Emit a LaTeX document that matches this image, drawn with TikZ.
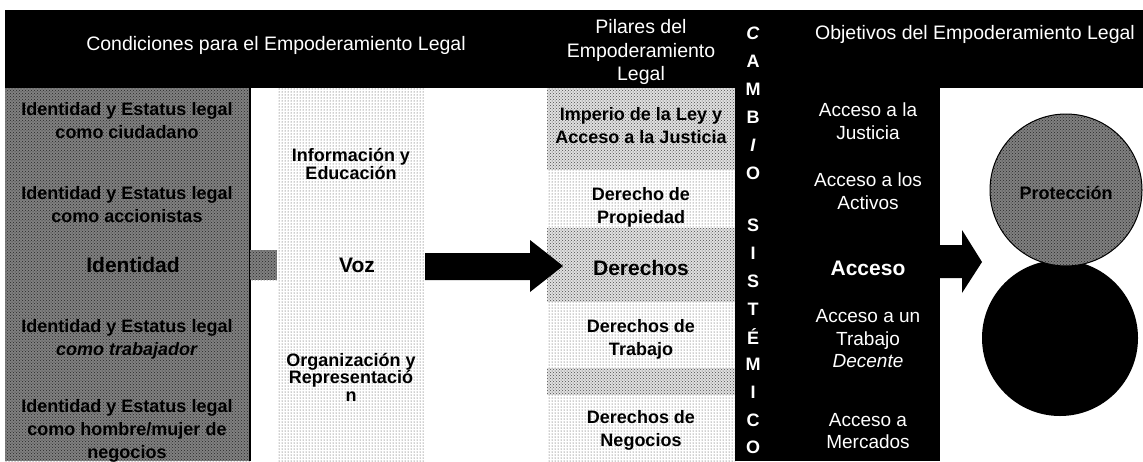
\documentclass[tikz,border=0pt]{standalone}
\usepackage{fontspec}
\setmainfont{Liberation Sans}
\usetikzlibrary{patterns}

\begin{document}
\begin{tikzpicture}[x=1pt,y=-1pt,line join=round,
	ralo/.style={preaction={fill=white},pattern=dots,pattern color=black!80},
	denso/.style={preaction={fill=black!12},pattern=crosshatch dots,pattern color=black!70},
	textura/.style={preaction={fill=black!50},pattern=crosshatch dots,pattern color=black!85},
	txt/.style={align=center,inner sep=0pt,font=\bfseries\fontsize{18}{23}\selectfont},
	apretado/.style={align=center,inner sep=0pt,font=\bfseries\fontsize{18}{17.5}\selectfont},
	grande/.style={align=center,inner sep=0pt,font=\bfseries\fontsize{21}{25}\selectfont},
	blanco/.style={align=center,inner sep=0pt,text=white,font=\fontsize{19}{22.5}\selectfont},
	cabeza/.style={align=center,inner sep=0pt,text=white,font=\fontsize{19.5}{23.5}\selectfont},
	letra/.style={inner sep=0pt,text=white,font=\bfseries\fontsize{18}{18}\selectfont}]
	
	% Columnas
	\def\xA{5}   % borde izquierdo
	\def\xB{250} % fin de Identidad
	\def\xC{277} % inicio de Voz
	\def\xD{425} % fin de Voz
	\def\xE{547} % inicio de Pilares
	\def\xF{735} % fin de Pilares
	\def\xG{940} % fin de Objetivos
	\def\yA{10}  % borde superior
	\def\yB{88}  % fin de cabecera
	
	% Marco
	\useasboundingbox (0,0) rectangle (1143,461);
	\fill[white] (0,0) rectangle (1143,461);
	
	% Cabecera y columna negra
	\fill[black] (\xA,\yA) rectangle (1143,\yB);
	\fill[black] (\xF,\yB) rectangle (\xG,461);
	
	% Identidad
	\path[textura] (\xA,\yB) rectangle (\xB,461);
	\draw[line width=2pt] (\xB,\yB) -- (\xB,461);
	\path[textura] (\xB,250) rectangle (\xC,280);
	
	% Voz
	\path[ralo] (\xC,\yB) rectangle (\xD,461);
	
	% Pilares (franjas)
	\foreach \ya/\yb/\est in {88/170/denso,170/228/ralo,228/302/denso,302/368/ralo,368/395/denso,395/461/ralo}
	\path[\est] (\xE,\ya) rectangle (\xF,\yb);
	
	% Flecha Voz -> Derechos
	\coordinate (f1) at (563,266);
	\fill[black] (\xD,253) -- (530,253) -- (530,240) -- (f1) -- (530,292) -- (530,280) -- (\xD,280) -- cycle;
	
	% Circulos
	\node[circle,fill=black,minimum size=156pt,inner sep=0pt] (oport) at (1060,338) {};
	\node[circle,draw,line width=1pt,textura,minimum size=152pt,inner sep=0pt] (protec) at (1066,190) {};
	\node[txt] (proteccion) at (1066,193) {Protección};
	
	% Flecha Acceso -> circulos
	\coordinate (f2) at (982,262);
	\fill[black] (\xG,245) -- (962,245) -- (962,230) -- (f2) -- (962,293) -- (962,278) -- (\xG,278) -- cycle;
	
	% Cabeceras
	\node[cabeza] (condic) at (276,45) {Condiciones para el Empoderamiento Legal};
	\node[cabeza] (pilares) at (641,52) {Pilares del\\Empoderamiento\\Legal};
	\node[cabeza] (objet) at (975,34) {Objetivos del Empoderamiento Legal};
	
	% CAMBIO SISTEMICO
	\foreach \l/\yy [count=\i] in {\textit{C}/33,A/61,M/89,B/117,\textit{I}/145,O/173}
	\node[letra] (cambio\i) at (753,\yy) {\l};
	\foreach \l/\yy [count=\i] in {S/225,I/253,S/281,T/309,É/337,M/364,I/392,C/420,O/447}
	\node[letra] (sist\i) at (753,\yy) {\l};
	
	% Textos de Identidad
	\node[txt] (idciud) at (127,121) {Identidad y Estatus legal\\como ciudadano};
	\node[txt] (idaccion) at (127,205) {Identidad y Estatus legal\\como accionistas};
	\node[grande] (ident) at (133,265) {Identidad};
	\node[txt] (idtrab) at (127,339) {Identidad y Estatus legal\\\textit{como trabajador}};
	\node[txt] (idneg) at (127,431) {Identidad y Estatus legal\\como hombre/mujer de\\negocios};
	
	% Textos de Voz
	\node[apretado] (info) at (351,164) {Información y\\Educación};
	\node[grande] (voz) at (357,265) {Voz};
	\node[apretado] (organiz) at (351,377) {Organización y\\Representació\\n};
	
	% Textos de Pilares
	\node[txt] (imperio) at (641,126) {Imperio de la Ley y\\Acceso a la Justicia};
	\node[txt] (propiedad) at (641,207) {Derecho de\\Propiedad};
	\node[grande] (derechos) at (641,268) {Derechos};
	\node[txt] (trabajo) at (641,339) {Derechos de\\Trabajo};
	\node[txt] (negocios) at (641,430) {Derechos de\\Negocios};
	
	% Textos de Objetivos
	\node[blanco] (justicia) at (868,121) {Acceso a la\\Justicia};
	\node[blanco] (activos) at (868,191) {Acceso a los\\Activos};
	\node[grande,text=white] (acceso) at (868,268) {Acceso};
	\node[blanco] (decente) at (868,339) {Acceso a un\\Trabajo\\\textit{Decente}};
	\node[blanco] (mercados) at (868,431) {Acceso a\\Mercados};
	
\end{tikzpicture}
\end{document}
